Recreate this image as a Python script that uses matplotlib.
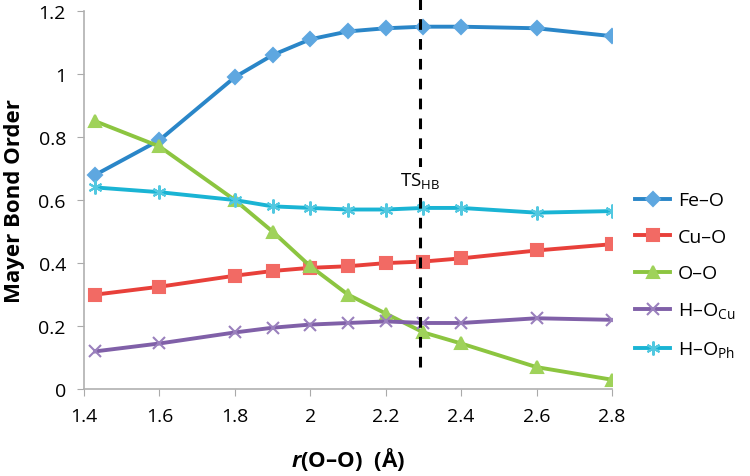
import matplotlib
matplotlib.use("Agg")
import matplotlib.pyplot as plt

plt.rcParams["font.family"] = ["Open Sans", "DejaVu Sans"]
plt.rcParams["mathtext.fontset"] = "custom"
plt.rcParams["mathtext.rm"] = "Open Sans"
plt.rcParams["mathtext.it"] = "Open Sans:italic:bold"
plt.rcParams["mathtext.bf"] = "Open Sans:bold"

# bond distance r(O-O) in Angstrom
r_oo = [1.43, 1.6, 1.8, 1.9, 2.0, 2.1, 2.2, 2.3, 2.4, 2.6, 2.8]

fe_o = [0.68, 0.79, 0.99, 1.06, 1.11, 1.135, 1.145, 1.15, 1.15, 1.145, 1.12]
cu_o = [0.30, 0.325, 0.36, 0.375, 0.385, 0.39, 0.40, 0.405, 0.415, 0.44, 0.46]
o_o = [0.85, 0.77, 0.60, 0.50, 0.39, 0.30, 0.24, 0.18, 0.145, 0.07, 0.03]
h_ocu = [0.12, 0.145, 0.18, 0.195, 0.205, 0.21, 0.215, 0.21, 0.21, 0.225, 0.22]
h_oph = [0.64, 0.625, 0.60, 0.58, 0.575, 0.57, 0.57, 0.575, 0.575, 0.56, 0.565]

ts_hb = 2.29

series = [
    ("Fe–O", fe_o, "#2a86c8", "#5ea7e0", "D", 7),
    ("Cu–O", cu_o, "#e8403a", "#f26a64", "s", 9),
    ("O–O", o_o, "#8cc540", "#9fd25a", "^", 9),
    ("H–O$_{\\mathrm{Cu}}$", h_ocu, "#8060a8", "#9a80bd", "x", 9),
    ("H–O$_{\\mathrm{Ph}}$", h_oph, "#1ab4d4", "#52c8e0", (6, 2, 0), 10),
]

fig = plt.figure(figsize=(7.5, 4.77), dpi=100)
ax = fig.add_axes([0.112, 0.182, 0.704, 0.793])

for label, vals, lc, mc, mk, ms in series:
    ax.plot(r_oo, vals, color=lc, lw=2.8, marker=mk, markersize=ms,
            markerfacecolor=mc, markeredgecolor=mc, markeredgewidth=1.5,
            label=label, zorder=3)

# transition state marker
ax.plot([ts_hb, ts_hb], [0.07, 1.26], color="black", lw=2.2,
        linestyle=(0, (3.5, 3)), zorder=4, clip_on=False)
ax.text(ts_hb, 0.66, "TS$_{\\mathrm{HB}}$", ha="center", va="center",
        fontsize=13.5, zorder=5,
        bbox=dict(facecolor="white", edgecolor="none", pad=3))

ax.set_xlim(1.4, 2.8)
ax.set_ylim(0, 1.2)
ax.set_xticks([1.4, 1.6, 1.8, 2.0, 2.2, 2.4, 2.6, 2.8])
ax.set_xticklabels(["1.4", "1.6", "1.8", "2", "2.2", "2.4", "2.6", "2.8"])
ax.set_yticks([0, 0.2, 0.4, 0.6, 0.8, 1.0, 1.2])
ax.set_yticklabels(["0", "0.2", "0.4", "0.6", "0.8", "1", "1.2"])
ax.tick_params(labelsize=14, color="#aaaaaa", length=5, direction="out",
               pad=8)

for side in ["top", "right"]:
    ax.spines[side].set_visible(False)
for side in ["left", "bottom"]:
    ax.spines[side].set_color("#b0b0b0")
    ax.spines[side].set_linewidth(1.2)

ax.set_ylabel("Mayer Bond Order", fontsize=16, fontweight="bold", labelpad=10)
ax.set_xlabel("$\\mathit{r}$(O–O)  (Å)", fontsize=16,
              fontweight="bold", labelpad=14)

ax.legend(loc="center left", bbox_to_anchor=(1.0, 0.30), frameon=False,
          fontsize=14, handlelength=1.8, labelspacing=0.95, handletextpad=0.4,
          borderaxespad=0.8)

fig.savefig("out.png", dpi=100)
